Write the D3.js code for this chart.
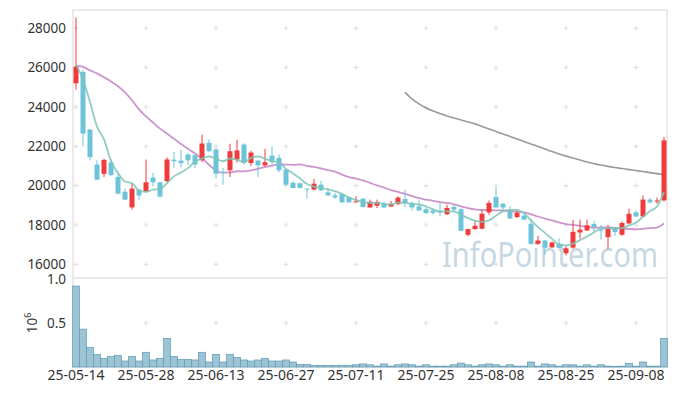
<!DOCTYPE html>
<html><head><meta charset="utf-8">
<script src="https://cdn.jsdelivr.net/npm/d3@7/dist/d3.min.js"></script>
<style>body{margin:0;background:#fff}svg{display:block}</style>
</head><body><svg id="c" width="677" height="396"></svg>
<script>
const dates = ["25-05-14","25-05-15","25-05-16","25-05-19","25-05-20","25-05-21","25-05-22","25-05-23","25-05-26","25-05-27",
"25-05-28","25-05-29","25-05-30","25-06-02","25-06-04","25-06-05","25-06-09","25-06-10","25-06-11","25-06-12",
"25-06-13","25-06-16","25-06-17","25-06-18","25-06-19","25-06-20","25-06-23","25-06-24","25-06-25","25-06-26",
"25-06-27","25-06-30","25-07-01","25-07-02","25-07-03","25-07-04","25-07-07","25-07-08","25-07-09","25-07-10",
"25-07-11","25-07-14","25-07-15","25-07-16","25-07-17","25-07-18","25-07-21","25-07-22","25-07-23","25-07-24",
"25-07-25","25-07-28","25-07-29","25-07-30","25-07-31","25-08-01","25-08-04","25-08-05","25-08-06","25-08-07",
"25-08-08","25-08-11","25-08-12","25-08-13","25-08-14","25-08-18","25-08-19","25-08-20","25-08-21","25-08-22",
"25-08-25","25-08-26","25-08-27","25-08-28","25-08-29","25-09-01","25-09-02","25-09-03","25-09-04","25-09-05",
"25-09-08","25-09-09","25-09-10","25-09-11","25-09-12"];

const openP = [25200,25780,22850,21070,20600,21180,20440,19690,18890,19800,
19690,20410,20170,20230,21320,21270,21580,21545,21290,22175,
21840,20700,20780,21330,22090,21150,21275,21030,21530,21410,
20820,20140,20120,19850,19800,20050,19660,19500,19570,19400,
19150,19340,18890,18980,19070,18940,19060,19320,19120,18940,
18800,18730,18700,18540,18920,18800,17500,17790,17810,18640,
19420,19080,18690,18400,18470,18060,17040,17210,16860,17040,
16560,16850,17620,17720,18050,17760,17380,17870,17500,18080,
18640,18430,19290,19200,19250];
const highP = [28550,25900,22870,21290,21360,21360,20650,19860,20130,19820,
21330,20650,20200,21440,21720,21830,21650,21600,22600,22350,
21900,20900,22130,22330,22150,21780,21290,21870,22000,21580,
20900,20250,20140,19860,20340,20240,19880,19630,19600,19450,
19460,19350,19290,19290,19180,19220,19460,19800,19200,19250,
18950,18860,19120,19030,19030,18850,17800,18230,18740,19250,
19930,19100,18960,18725,18640,18300,17450,17230,17160,17330,
16920,18250,18270,18270,18210,18000,18000,17900,18180,18830,
18740,19500,19370,19400,22480];
const lowP = [24880,22000,21280,20290,20440,20480,19580,19270,18780,19250,
19660,19970,19400,20170,20910,20930,21050,20900,21210,21700,
20350,20050,20440,21170,21070,20990,20440,20980,21070,20680,
20000,19870,19860,19340,19760,19740,19490,19320,19130,19130,
19150,18880,18880,18860,18870,18930,19000,18900,18720,18720,
18580,18520,18430,18520,18640,17680,17430,17760,17780,18520,
18880,18690,18300,18350,18250,16990,16990,16480,16840,16830,
16450,16790,17300,17700,17630,17250,16790,17450,17450,18050,
18400,18400,19080,19080,19200];
const closeP = [26050,22650,21450,20300,21310,20540,19590,19290,19850,19500,
20170,20170,19450,21330,21240,21140,21290,21070,22140,21750,
20600,20650,21750,21790,21160,21680,21035,21190,21190,20780,
20050,19880,19880,19830,20100,19760,19500,19400,19150,19150,
19200,18910,19180,19170,18890,19070,19390,19120,18890,18740,
18600,18610,18620,18860,18780,17700,17790,17960,18570,19120,
18890,18890,18330,18620,18270,17040,17210,16840,17110,16840,
16810,17650,17760,17980,17900,17740,17840,17640,18100,18570,
18430,19290,19150,19240,22300];
const volume = [920000,430000,224000,144000,99000,120000,133000,68000,120000,68000,
167000,80000,99000,326000,120000,87000,87000,80000,167000,57000,
144000,57000,144000,110000,80000,68000,80000,99000,68000,68000,
80000,57000,30000,30000,19000,19000,19000,19000,20000,20000,
25000,35000,25000,10000,35000,10000,25000,35000,25000,10000,
25000,10000,10000,10000,25000,45000,25000,10000,25000,35000,
25000,10000,25000,10000,10000,57000,10000,35000,25000,10000,
25000,25000,10000,25000,10000,25000,10000,5000,10000,42000,
10000,57000,10000,10000,326000];
const ma5 = [26150,25400,24250,23000,22350,21250,20640,20210,20120,19750,
19680,19800,19830,20120,20470,20670,20890,21210,21380,21480,
21370,21240,21380,21310,21190,21410,21480,21370,21250,21180,
20850,20620,20360,20080,19950,19890,19810,19720,19580,19390,
19280,19160,19120,19120,19070,19040,19140,19130,19070,19040,
18950,18790,18690,18690,18690,18510,18350,18220,18160,18230,
18470,18690,18760,18770,18600,18230,17890,17600,17290,17010,
16960,17050,17230,17410,17620,17810,17840,17820,17840,17980,
18120,18410,18710,18940,19680];
const ma20 = [26100,26040,25860,25710,25510,25300,25050,24740,24340,23880,
23520,23210,22900,22650,22380,22120,21870,21630,21380,21060,
20760,20660,20670,20730,20720,20780,20850,20950,21020,21080,
21070,21060,21080,21000,20950,20880,20790,20710,20560,20430,
20360,20270,20140,20010,19900,19770,19680,19580,19470,19360,
19290,19230,19160,19120,19050,18950,18860,18790,18760,18760,
18740,18740,18700,18670,18640,18540,18430,18320,18230,18130,
18040,18000,17950,17910,17860,17870,17870,17850,17830,17800,
17780,17800,17840,17870,18070];
const ma60Known = [24743,24410,24157,23950,23800,23670,23545,23440,23340,23240,
23140,23010,22880,22750,22630,22500,22370,22240,22120,21990,
21860,21730,21610,21500,21400,21300,21200,21120,21045,20980,
20920,20870,20815,20765,20715,20660,20610,20560];
const ma60 = Array(dates.length - ma60Known.length).fill(null).concat(ma60Known);

const xTickLabels = ["25-05-14","25-05-28","25-06-13","25-06-27","25-07-11","25-07-25","25-08-08","25-08-25","25-09-08"];
const priceTicks = [16000,18000,20000,22000,24000,26000,28000];
const volTicks = [500000,1000000];
const volTickLabels = ["0.5","1.0"];

const L = 73, R = 667, T = 10, PB = 278, VB = 367;
const svg = d3.select("#c");
const font = "'Noto Sans', 'Liberation Sans', Arial, sans-serif";

const x = d3.scaleBand().domain(dates).range([L - 0.5, R + 0.5]).padding(0);
const cx = d => x(d) + x.bandwidth() / 2;
const y = d3.scaleLinear().domain([15303, 28930]).range([PB, T]);
const yv = d3.scaleLinear().domain([0, 1000000]).range([VB, 279]);

// frame
const frame = svg.append("g").attr("stroke", "#e4e4e4").attr("fill", "none").attr("stroke-width", 1.5);
frame.append("rect").attr("x", L).attr("y", T).attr("width", R - L).attr("height", VB - T);
frame.append("line").attr("x1", L).attr("x2", R).attr("y1", PB).attr("y2", PB);

// grid plus marks
const gx = xTickLabels.map(cx);
const gyAll = priceTicks.map(y).concat([yv(500000)]);
const grid = svg.append("g").attr("stroke", "#dedede").attr("stroke-width", 1);
gx.forEach(px => gyAll.forEach(py => {
  grid.append("line").attr("x1", px - 2.5).attr("x2", px + 2.5).attr("y1", py).attr("y2", py);
  grid.append("line").attr("x1", px).attr("x2", px).attr("y1", py - 2.5).attr("y2", py + 2.5);
}));

// watermark
svg.append("text").attr("x", 442).attr("y", 267).attr("font-family", font).attr("font-size", 35)
  .attr("fill", "#bed3de").attr("fill-opacity", 0.9).attr("textLength", 216).attr("lengthAdjust", "spacingAndGlyphs")
  .text("InfoPointer.com");

// volume bars
svg.append("g").selectAll("rect").data(dates).join("rect")
  .attr("x", d => x(d)).attr("width", x.bandwidth())
  .attr("y", (d, i) => yv(volume[i])).attr("height", (d, i) => VB - yv(volume[i]))
  .attr("fill", "#9cc4d5").attr("stroke", "#5f9bb5").attr("stroke-width", 0.7);

// MA lines
const line = arr => d3.line().defined((d, i) => arr[i] != null).x(d => cx(d)).y((d, i) => y(arr[i])).curve(d3.curveMonotoneX)(dates);
svg.append("path").attr("d", line(ma60)).attr("fill", "none").attr("stroke", "#9a9a9a").attr("stroke-width", 1.6);
svg.append("path").attr("d", line(ma20)).attr("fill", "none").attr("stroke", "#c483c4").attr("stroke-width", 1.8).attr("stroke-opacity", 0.85);

// candles
const up = i => closeP[i] >= openP[i];
const cg = svg.append("g");
const bw = 5;
dates.forEach((d, i) => {
  const col = up(i) ? "#ef3b3b" : "#6cc3da";
  cg.append("line").attr("x1", cx(d)).attr("x2", cx(d)).attr("y1", y(highP[i])).attr("y2", y(lowP[i]))
    .attr("stroke", col).attr("stroke-width", 1);
  const top = y(Math.max(openP[i], closeP[i])), bot = y(Math.min(openP[i], closeP[i]));
  cg.append("rect").attr("x", cx(d) - bw / 2).attr("width", bw).attr("y", top).attr("height", Math.max(1, bot - top))
    .attr("fill", col);
});
svg.append("path").attr("d", line(ma5)).attr("fill", "none").attr("stroke", "#7cc6b6").attr("stroke-width", 1.8).attr("stroke-opacity", 0.85);

// axes
const yAxis = svg.append("g").attr("transform", `translate(${L - 4},0)`)
  .call(d3.axisLeft(y).tickValues(priceTicks).tickSize(0).tickFormat(d3.format("d")));
yAxis.select(".domain").remove();
const vAxis = svg.append("g").attr("transform", `translate(${L - 4},0)`)
  .call(d3.axisLeft(yv).tickValues(volTicks).tickSize(0).tickFormat((d, i) => volTickLabels[i]));
vAxis.select(".domain").remove();
const xAxis = svg.append("g").attr("transform", `translate(0,${VB})`)
  .call(d3.axisBottom(x).tickValues(xTickLabels).tickSize(0));
xAxis.select(".domain").remove();
svg.selectAll(".tick text").attr("font-family", font).attr("font-size", 13.5).attr("fill", "#333");
xAxis.selectAll(".tick text").attr("font-size", 14).attr("dy", "0.72em");

// 10^6 label
const ex = svg.append("text").attr("transform", "translate(37,323) rotate(-90)").attr("text-anchor", "middle")
  .attr("font-family", font).attr("font-size", 13.5).attr("fill", "#333");
ex.append("tspan").text("10");
ex.append("tspan").attr("font-size", 9).attr("dy", -6).text("6");
</script></body></html>
